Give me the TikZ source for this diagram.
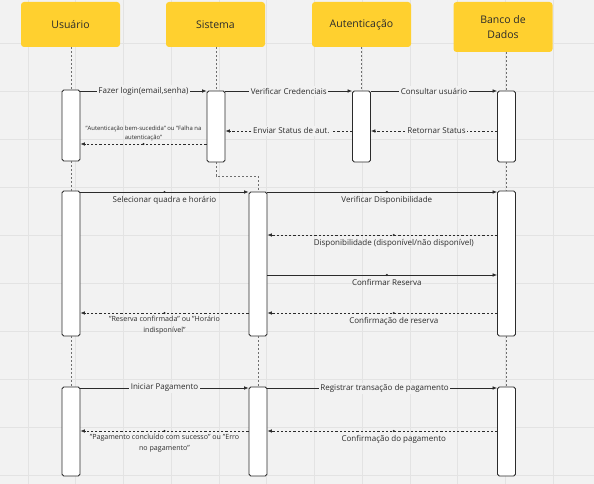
\documentclass[tikz,border=0pt]{standalone}
\usepackage{fontspec}
\setmainfont{Open Sans}
\usetikzlibrary{arrows.meta}
\definecolor{bg}{HTML}{F2F2F2}
\definecolor{gridc}{HTML}{E3E3E3}
\definecolor{hdr}{HTML}{FFD02F}
\definecolor{ink}{HTML}{2B2B2B}
\definecolor{life}{HTML}{6E6E6E}
\tikzset{
  hbox/.style={fill=hdr, rounded corners=3pt, minimum width=99pt, inner sep=0pt, align=center, font=\fontsize{10.5}{15}\selectfont, text=ink},
  act/.style={draw=ink, fill=white, line width=0.8pt, rounded corners=1.8pt, minimum width=18pt, inner sep=0pt},
  lifeline/.style={draw=life, line width=0.6pt, dash pattern=on 2pt off 2pt},
  msg/.style={draw=ink, line width=0.7pt, -{Latex[length=4.5pt,width=3.6pt]}},
  ret/.style={msg, dash pattern=on 2.2pt off 2pt},
  inl/.style={fill=bg, inner sep=1.5pt, font=\fontsize{8}{10}\selectfont, text=ink},
  lbl/.style={inner sep=1pt, font=\fontsize{8}{10}\selectfont, text=ink},
  sml/.style={inner sep=1pt, align=center, font=\fontsize{5.9}{9}\selectfont, text=ink},
  smlb/.style={inner sep=1pt, align=center, font=\fontsize{7.1}{11}\selectfont, text=ink},
  mdot/.style={circle, fill=ink, inner sep=0pt, minimum size=2.4pt}
}
\begin{document}
\begin{tikzpicture}[x=1pt,y=-1pt]
\useasboundingbox (0,0) rectangle (594,484);
\fill[bg] (0,0) rectangle (594,484);
% grid
\foreach \k in {0,...,11} {\draw[gridc, line width=0.8pt] ({28+47.75*\k},0) -- ({28+47.75*\k},484);}
\foreach \k in {0,...,9} {\draw[gridc, line width=0.8pt] (0,{43+48*\k}) -- (594,{43+48*\k});}

% headers
\node[hbox, minimum height=45pt] (hu) at (70.5,24.5) {Usuário};
\node[hbox, minimum height=45pt] (hs) at (215.5,24.5) {Sistema};
\node[hbox, minimum height=45pt] (ha) at (361.5,24.5) {Autenticação};
\node[hbox, minimum height=50pt] (hb) at (503,27) {Banco de\\Dados};

% activation boxes, block 1
\node[act, minimum height=71pt] (u1) at (71,125.5) {};
\node[act, minimum height=71pt] (s1) at (216,126.5) {};
\node[act, minimum height=71pt] (a1) at (361.5,126.5) {};
\node[act, minimum height=71pt] (b1) at (506.5,126.5) {};
% block 2
\node[act, minimum height=145pt] (u2) at (71,263.5) {};
\node[act, minimum height=144pt] (s2) at (258,264) {};
\node[act, minimum height=145pt] (b2) at (506.5,263.5) {};
% block 3
\node[act, minimum height=89pt] (u3) at (71,431.5) {};
\node[act, minimum height=89pt] (s3) at (258,431.5) {};
\node[act, minimum height=89pt] (b3) at (506.5,431.5) {};

% lifelines
\draw[lifeline] (hu.south -| u1.north) -- (u1.north);
\draw[lifeline] (hs.south -| s1.north) -- (s1.north);
\draw[lifeline] (ha.south -| a1.north) -- (a1.north);
\draw[lifeline] (hb.south -| b1.north) -- (b1.north);
\draw[lifeline] (u1.south) -- (u2.north);
\draw[lifeline] (b1.south) -- (b2.north);
\coordinate (k1) at (216,176);
\draw[lifeline] (s1.south) -- (k1) -- (k1 -| s2.north) -- (s2.north);
\draw[lifeline] (u2.south) -- (u3.north);
\draw[lifeline] (s2.south) -- (s3.north);
\draw[lifeline] (b2.south) -- (b3.north);

% block 1 messages
\draw[msg] (u1.east |- 0,91) -- node[inl]{Fazer login(email,senha)} (s1.west |- 0,91);
\draw[msg] (s1.east |- 0,91) -- node[inl]{Verificar Credenciais} (a1.west |- 0,91);
\draw[msg] (a1.east |- 0,91) -- node[inl]{Consultar usuário} (b1.west |- 0,91);
\draw[ret] (b1.west |- 0,131) -- node[inl, pos=0.48]{Retornar Status} (a1.east |- 0,131);
\draw[ret] (a1.west |- 0,131) -- node[inl, pos=0.48]{Enviar Status de aut.} (s1.east |- 0,131);
\draw[ret] (s1.west |- 0,144) -- node[mdot]{} node[sml, above=2pt]{"Autenticação bem-sucedida" ou "Falha na\\autenticação"} (u1.east |- 0,144);

% block 2 messages
\draw[msg] (u2.east |- 0,192) -- node[mdot]{} node[lbl, below=3pt]{Selecionar quadra e horário} (s2.west |- 0,192);
\draw[msg] (s2.east |- 0,192) -- node[mdot, pos=0.52]{} node[lbl, below=3pt, pos=0.52]{Verificar Disponibilidade} (b2.west |- 0,192);
\draw[ret] (b2.west |- 0,235) -- node[mdot, pos=0.45]{} node[lbl, below=3pt, pos=0.45]{Disponibilidade (disponível/não disponível)} (s2.east |- 0,235);
\draw[msg] (s2.east |- 0,275) -- node[mdot, pos=0.52]{} node[lbl, below=3pt, pos=0.52]{Confirmar Reserva} (b2.west |- 0,275);
\draw[ret] (b2.west |- 0,313) -- node[mdot, pos=0.45]{} node[lbl, below=3pt, pos=0.45]{Confirmação de reserva} (s2.east |- 0,313);
\draw[ret] (s2.west |- 0,313) -- node[mdot]{} node[smlb, below=2pt]{"Reserva confirmada" ou "Horário\\indisponível"} (u2.east |- 0,313);

% block 3 messages
\draw[msg] (u3.east |- 0,388) -- node[inl]{Iniciar Pagamento} (s3.west |- 0,388);
\draw[msg] (s3.east |- 0,388) -- node[inl, pos=0.51]{Registrar transação de pagamento} (b3.west |- 0,388);
\draw[ret] (b3.west |- 0,431) -- node[mdot, pos=0.45]{} node[lbl, below=3pt, pos=0.45]{Confirmação do pagamento} (s3.east |- 0,431);
\draw[ret] (s3.west |- 0,431) -- node[mdot]{} node[smlb, below=2pt]{"Pagamento concluído com sucesso" ou "Erro\\no pagamento"} (u3.east |- 0,431);
\end{tikzpicture}
\end{document}
